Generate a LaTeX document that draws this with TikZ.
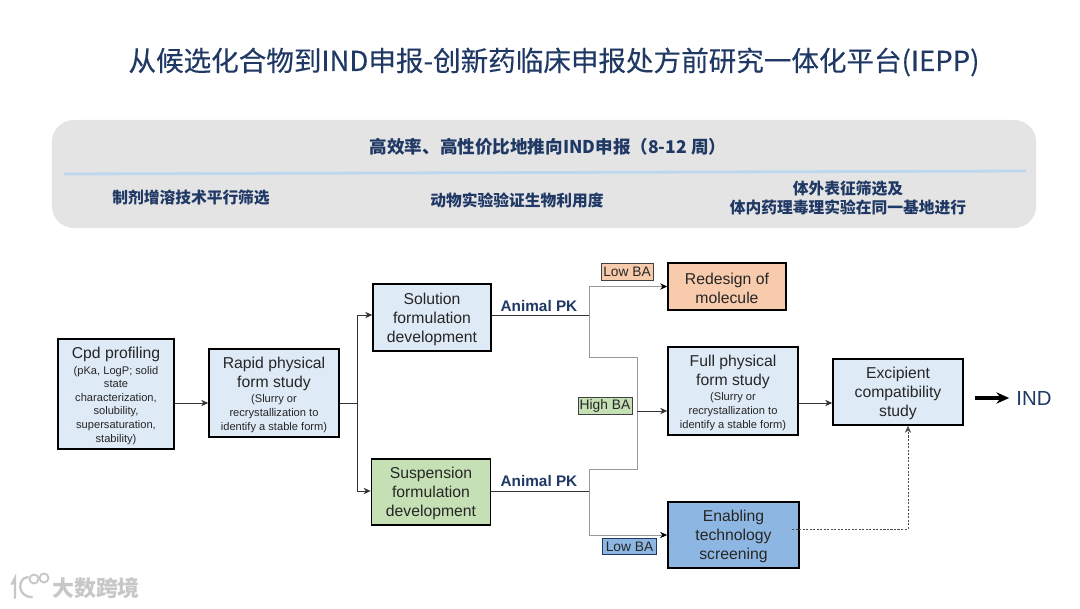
\documentclass[tikz,border=0pt]{standalone}
\usepackage{fontspec}
\setmainfont{Liberation Sans}
\newfontfamily\cjk{Noto Sans CJK SC}
\newfontfamily\cjktitle[FakeBold=0.25]{Noto Sans CJK SC}
\usetikzlibrary{arrows.meta, positioning}
\definecolor{navy}{HTML}{1F3864}
\definecolor{panelgray}{HTML}{E4E4E5}
\definecolor{rulecol}{HTML}{BDD7EE}
\definecolor{paleblue}{HTML}{DEEAF6}
\definecolor{palegreen}{HTML}{C5E0B4}
\definecolor{paleorange}{HTML}{F8CBAD}
\definecolor{midblue}{HTML}{8DB7E2}
\newcommand{\subtxt}{\par\vspace{1.5pt}\fontsize{7.9}{9.7}\selectfont}

\begin{document}
\begin{tikzpicture}[
    x=0.025cm, y=-0.025cm,
    every node/.style={align=flush center, inner sep=0pt},
    stage/.style={draw=black, line width=1.1pt, fill=paleblue, text=black!85,
                  font=\fontsize{11.2}{13.4}\selectfont,
                  execute at begin node={\rule{0pt}{10.5pt}}},
    tag/.style={draw=black!75, line width=0.6pt, font=\fontsize{9.8}{11}\selectfont,
                text=black!85, minimum height=0.41cm},
    head/.style={text=navy, font=\cjk\bfseries\fontsize{11.2}{13.6}\selectfont},
    pk/.style={text=navy, font=\fontsize{10.9}{13}\selectfont\bfseries},
    arr/.style={->, >={Stealth[length=5pt,width=4.5pt]}, line width=0.5pt, draw=black!80},
    branch/.style={line width=0.7pt, draw=black!40},
    branchin/.style={branch, ->, >={Stealth[length=5pt,width=4.5pt,color=black]}}
]
\useasboundingbox (0,0) rectangle (1080,608);

\node[text=navy, font=\cjktitle\fontsize{19.6}{23}\selectfont] (title) at (554,62)
    {从候选化合物到IND申报-创新药临床申报处方前研究一体化平台(IEPP)};

% top panel
\node[fill=panelgray, rounded corners=0.55cm, minimum width=24.6cm, minimum height=2.7cm] (panel) at (544,174) {};
\coordinate (ruleL) at (64,174);
\coordinate (ruleR) at (1026,171);
\draw[rulecol, line width=2pt] (ruleL) -- (ruleR);
\node[head, font=\cjk\bfseries\fontsize{12.5}{14}\selectfont] (goal) at (548,147) {高效率、高性价比地推向IND申报（8-12 周）};
\node[head] (head1) at (191,198) {制剂增溶技术平行筛选};
\node[head] (head2) at (517,200) {动物实验验证生物利用度};
\node[head] (head3) at (848,198) {体外表征筛选及\\体内药理毒理实验在同一基地进行};

% stages
\node[stage, text width=2.9cm, minimum height=2.75cm] (cpd) at (116,394)
    {Cpd profiling\subtxt (pKa, LogP; solid\\state\\characterization,\\solubility,\\supersaturation,\\stability)\par};
\node[stage, text width=3.25cm, minimum height=2.2cm] (rapid) at (274,393)
    {Rapid physical\\form study\subtxt (Slurry or\\recrystallization to\\identify a stable form)\par};
\node[stage, text width=2.95cm, minimum height=1.67cm] (sol) at (432,317.5)
    {Solution\\formulation\\development};
\node[stage, fill=palegreen, text width=2.98cm, minimum height=1.65cm] (susp) at (431,492)
    {Suspension\\formulation\\development};
\node[stage, fill=paleorange, text width=2.95cm, minimum height=1.18cm, execute at begin node={}] (redesign) at (727,286.5)
    {Redesign of\\molecule};
\node[stage, text width=3.25cm, minimum height=2.2cm] (full) at (733,391)
    {Full physical\\form study\subtxt (Slurry or\\recrystallization to\\identify a stable form)\par};
\node[stage, text width=3.25cm, minimum height=1.65cm] (excip) at (898,392)
    {Excipient\\compatibility\\study};
\node[stage, fill=midblue, text width=3.28cm, minimum height=1.65cm] (enable) at (733.5,535)
    {Enabling\\technology\\screening};

% tags on the branches
\node[tag, fill=paleorange, minimum width=1.3cm] (lowA) at (627,272) {Low BA};
\node[tag, fill=palegreen, minimum width=1.35cm] (highB) at (605,406) {High BA};
\node[tag, fill=midblue, draw=navy, minimum width=1.33cm] (lowC) at (629.5,546.5) {Low BA};
\node[pk] (pkA) at (539,306) {Animal PK};
\node[pk] (pkB) at (539,481) {Animal PK};
\node[text=navy, font=\fontsize{14.5}{16}\selectfont] (ind) at (1034,398) {IND};

% junctions
\coordinate (j1) at (357,403);
\coordinate (j2) at (589,315);
\coordinate (j3) at (589,491);
\coordinate (j4) at (637,357);
\coordinate (j5) at (637,469);
\coordinate (j6) at (637,411);
\coordinate (j7) at (815,403);
\coordinate (dashA) at (792,529);
\coordinate (dashB) at (908,529);
\coordinate (indA) at (975,398);

\draw[arr] (cpd.east |- j1) -- (rapid.west |- j1);
\draw[arr, -] (rapid.east |- j1) -- (j1);
\draw[arr] (j1) |- (sol.west |- j2);
\draw[arr] (j1) |- (susp.west |- j3);
\draw[arr, -] (sol.east |- j2) -- (j2);
\draw[arr, -] (susp.east |- j3) -- (j3);
\draw[branchin] (j2) |- (redesign.west);
\draw[branch] (j2) |- (j4) -- (j5) -| (j3);
\draw[branchin] (j3) |- (enable.west);
\draw[arr] (j6) -- (full.west |- j6);
\draw[arr] (full.east |- j7) -- (excip.west |- j7);
\draw[arr, dash pattern=on 1.5pt off 1pt, draw=black!70] (dashA) -- (dashB) -- (excip.south -| dashB);
\draw[-{Stealth[length=9pt,width=8pt]}, line width=2.2pt, shorten >=5pt] (indA) -- (ind.west);

% watermark
\node[text=black!22, font=\cjk\bfseries\fontsize{15.6}{17}\selectfont] (wm) at (96,588) {大数跨境};
\draw[black!22, line width=1.6pt, line cap=round] (12,584) -- (15,578) -- (15,598) (28,577) .. controls (17,578) and (17,597) .. (32,597);
\draw[black!22, line width=1.3pt] (34,579) circle (4.5) (44,578) circle (4.5);
\end{tikzpicture}
\end{document}
